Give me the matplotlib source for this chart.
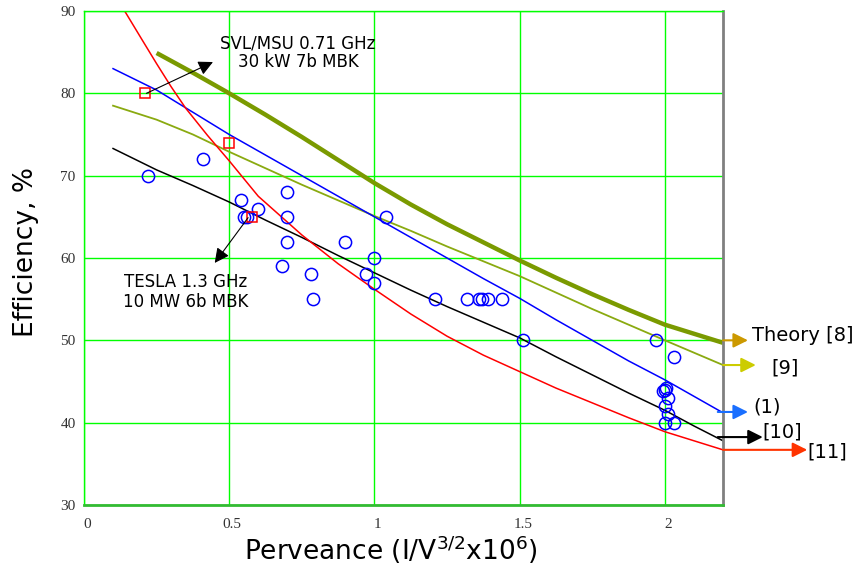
import matplotlib
matplotlib.use("Agg")
import matplotlib.pyplot as plt
import matplotlib.transforms as mtransforms

# ---------------- data ----------------
theory8_x = [0.25, 0.375, 0.5, 0.625, 0.75, 0.875, 1.0, 1.125, 1.25, 1.375, 1.5,
             1.625, 1.75, 1.875, 2.0, 2.1, 2.2]
theory8_y = [84.9, 82.5, 80.0, 77.4, 74.7, 71.9, 69.1, 66.5, 64.1, 61.9, 59.7,
             57.6, 55.6, 53.7, 51.9, 50.8, 49.7]

ref9_x = [0.1, 0.25, 0.375, 0.5, 0.625, 0.75, 0.875, 1.0, 1.125, 1.25, 1.375, 1.5,
          1.625, 1.75, 1.875, 2.0, 2.1, 2.2]
ref9_y = [78.5, 76.8, 75.0, 72.9, 70.9, 68.9, 67.0, 65.1, 63.3, 61.4, 59.6, 57.8,
          55.8, 53.8, 51.9, 50.0, 48.5, 47.0]

eq1_x = [0.1, 0.25, 0.375, 0.5, 0.625, 0.75, 0.875, 1.0, 1.125, 1.25, 1.375, 1.5,
         1.625, 1.75, 1.875, 2.0, 2.1, 2.2]
eq1_y = [83.0, 80.4, 77.7, 75.0, 72.5, 70.0, 67.5, 65.0, 62.5, 60.0, 57.5, 55.1,
         52.5, 50.0, 47.5, 45.2, 43.2, 41.2]

ref10_x = [0.1, 0.25, 0.375, 0.5, 0.625, 0.75, 0.875, 1.0, 1.125, 1.25, 1.375, 1.5,
           1.625, 1.75, 1.875, 2.0, 2.1, 2.2]
ref10_y = [73.3, 70.7, 68.8, 66.8, 64.6, 62.5, 60.3, 58.2, 56.1, 54.1, 52.2, 50.3,
           48.0, 45.8, 43.6, 41.5, 39.6, 37.8]

ref11_x = [0.14, 0.2, 0.25, 0.3, 0.35, 0.425, 0.5, 0.6, 0.75, 0.875, 1.0, 1.125,
           1.25, 1.375, 1.5, 1.625, 1.75, 1.875, 2.0, 2.1, 2.2]
ref11_y = [90.0, 86.5, 83.6, 80.8, 78.2, 74.9, 71.8, 67.5, 62.8, 59.3, 56.2, 53.2,
           50.5, 48.2, 46.2, 44.2, 42.4, 40.6, 38.9, 37.8, 36.7]

tube_x = [0.22, 0.41, 0.54, 0.55, 0.56, 0.60, 0.70, 0.70, 0.70, 0.68, 0.90, 1.04,
          1.00, 0.78, 0.97, 1.00, 0.79, 1.21, 1.32, 1.36, 1.37, 1.39, 1.44, 1.51,
          1.97, 2.03, 2.00, 2.005, 1.995, 2.01, 2.00, 2.01, 2.00, 2.03]
tube_y = [70, 72, 67, 65, 65, 66, 68, 65, 62, 59, 62, 65,
          60, 58, 58, 57, 55, 55, 55, 55, 55, 55, 55, 50,
          50, 48, 44, 44.2, 43.8, 43, 42, 41, 40, 40]

mbk_x = [0.21, 0.50, 0.58]
mbk_y = [80, 74, 65]

x_ticks = [0, 0.5, 1, 1.5, 2]
x_tick_labels = ["0", "0.5", "1", "1.5", "2"]
y_ticks = [30, 40, 50, 60, 70, 80, 90]

# ---------------- figure ----------------
fig = plt.figure(figsize=(8.6, 5.71), dpi=100)
ax = fig.add_axes([84 / 860, 1 - 505 / 571, (723 - 84) / 860, (505 - 11) / 571])
ax.set_xlim(0, 2.2)
ax.set_ylim(30, 90)

ax.set_xticks(x_ticks)
ax.set_xticklabels(x_tick_labels)
ax.set_yticks(y_ticks)
ax.tick_params(length=0, labelsize=11, colors="#333333")
ax.tick_params(axis="x", pad=9)
ax.tick_params(axis="y", pad=6)
for lab in ax.get_xticklabels() + ax.get_yticklabels():
    lab.set_family("Liberation Serif")
offset = mtransforms.ScaledTranslation(3 / 100, 0, fig.dpi_scale_trans)
for lab in ax.get_xticklabels():
    lab.set_transform(lab.get_transform() + offset)

ax.grid(True, color="#00ff00", lw=1.0)
ax.set_axisbelow(True)
for side in ("left", "top"):
    ax.spines[side].set_color("#00ff00")
    ax.spines[side].set_linewidth(1.0)
ax.spines["bottom"].set_color("#33bb33")
ax.spines["bottom"].set_linewidth(2.0)
ax.spines["right"].set_color("#808080")
ax.spines["right"].set_linewidth(2.0)

# curves
ax.plot(theory8_x, theory8_y, color="#7a9a00", lw=3.2, solid_capstyle="butt")
ax.plot(ref9_x, ref9_y, color="#8aaa10", lw=1.3)
ax.plot(eq1_x, eq1_y, color="#0000ff", lw=1.1)
ax.plot(ref10_x, ref10_y, color="#000000", lw=1.1)
ax.plot(ref11_x, ref11_y, color="#ff0000", lw=1.1)

# points
ax.plot(tube_x, tube_y, linestyle="none", marker="o", markersize=8.8,
        markerfacecolor="none", markeredgecolor="#0000ff", markeredgewidth=1.1)
ax.plot(mbk_x, mbk_y, linestyle="none", marker="s", markersize=7,
        markerfacecolor="none", markeredgecolor="#ff0000", markeredgewidth=1.1)

ann_font = "DejaVu Sans"

# SVL/MSU annotation
ax.annotate("", xy=(0.444, 83.8), xytext=(0.215, 80.0),
            arrowprops=dict(arrowstyle="-|>", mutation_scale=22, color="black", lw=0.8,
                            shrinkA=0, shrinkB=0), annotation_clip=False)
ax.text(0.737, 86.1, "SVL/MSU 0.71 GHz", ha="center", va="center", fontsize=12, family=ann_font)
ax.text(0.737, 83.8, "30 kW 7b MBK", ha="center", va="center", fontsize=12, family=ann_font)

# TESLA annotation
ax.annotate("", xy=(0.45, 59.4), xytext=(0.565, 64.9),
            arrowprops=dict(arrowstyle="-|>", mutation_scale=22, color="black", lw=0.8,
                            shrinkA=0, shrinkB=0), annotation_clip=False)
ax.text(0.351, 57.1, "TESLA 1.3 GHz", ha="center", va="center", fontsize=12, family=ann_font)
ax.text(0.351, 54.7, "10 MW 6b MBK", ha="center", va="center", fontsize=12, family=ann_font)

# right-hand labels with arrows
right_labels = [
    # (x_start, x_end, y_arrow, text, x_text, y_text, color_head)
    (2.20, 2.286, 50.0, "Theory [8]", 2.300, 50.6, "#cc9900"),
    (2.20, 2.313, 47.0, "[9]", 2.368, 46.6, "#cccc00"),
    (2.182, 2.286, 41.3, "(1)", 2.303, 41.9, "#1a6fff"),
    (2.182, 2.337, 38.25, "[10]", 2.334, 38.9, "#000000"),
    (2.20, 2.49, 36.7, "[11]", 2.49, 36.4, "#ff3300"),
]
for xs, xe, ya, txt, xt, yt, ch in right_labels:
    ax.annotate("", xy=(xe, ya), xytext=(xs, ya),
                arrowprops=dict(arrowstyle="-|>", mutation_scale=22, color=ch, lw=1.5,
                                shrinkA=0, shrinkB=0), annotation_clip=False)
    ax.text(xt, yt, txt, ha="left", va="center", fontsize=14, family=ann_font, clip_on=False)

# axis labels
plt.rcParams["mathtext.default"] = "regular"
fig.text(26 / 860, 1 - 252 / 571, "Efficiency, %", rotation=90, ha="center", va="center",
         fontsize=19, family=ann_font)
fig.text(391 / 860, 1 - 550 / 571, r"Perveance (I/V$^{3/2}$x10$^{6}$)", ha="center", va="center",
         fontsize=19, family=ann_font)

fig.savefig("out.png", dpi=100)
